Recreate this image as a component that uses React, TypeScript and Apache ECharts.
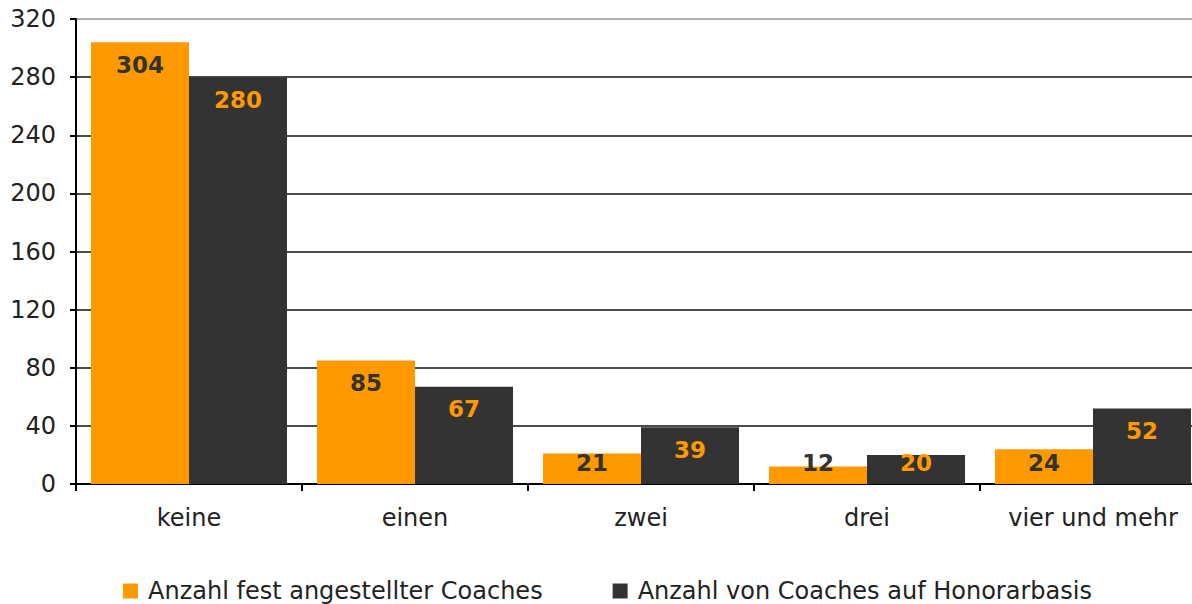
import React, { useEffect, useRef } from "react";
import * as echarts from "echarts";

const categories = ["keine", "einen", "zwei", "drei", "vier und mehr"];
const seriesNames = ["Anzahl fest angestellter Coaches", "Anzahl von Coaches auf Honorarbasis"];
const festValues = [304, 85, 21, 12, 24];
const honorarValues = [280, 67, 39, 20, 52];
const yTicks = [0, 40, 80, 120, 160, 200, 240, 280, 320];

const ORANGE = "#FF9900";
const DARK = "#333333";
const FONT = "DejaVu Sans, Verdana, sans-serif";

export default function App() {
  const ref = useRef<HTMLDivElement>(null);
  useEffect(() => {
    if (!ref.current) return;
    const chart = echarts.init(ref.current, null, { renderer: "svg" });
    const clampLayout = (params: any) => {
      const r = params.rect;
      const l = params.labelRect;
      const limit = r.y + r.height - 10;
      const bottom = l.y + l.height;
      if (bottom > limit) return { dy: limit - bottom };
      return {};
    };
    const label = (color: string) => ({
      show: true,
      position: "insideTop" as const,
      distance: 11,
      color,
      fontFamily: FONT,
      fontWeight: "bold" as const,
      fontSize: 23,
    });
    chart.setOption({
      animation: false,
      backgroundColor: "#ffffff",
      grid: { left: 76, right: 0, top: 19, bottom: 120, containLabel: false },
      legend: {
        top: 573,
        left: 118,
        itemWidth: 15,
        itemHeight: 15,
        itemGap: 70,
        icon: "rect",
        textStyle: { fontFamily: FONT, fontSize: 24, lineHeight: 26, color: "#222", padding: [0, 0, 0, 5] },
        data: seriesNames,
      },
      xAxis: {
        type: "category",
        data: categories,
        axisLine: { lineStyle: { color: "#000", width: 2 } },
        axisTick: { show: true, length: 7, lineStyle: { color: "#000", width: 2 } },
        axisLabel: { fontFamily: FONT, fontSize: 24, color: "#222", margin: 22 },
      },
      yAxis: {
        type: "value",
        min: yTicks[0],
        max: yTicks[yTicks.length - 1],
        interval: 40,
        axisLine: { show: true, lineStyle: { color: "#000", width: 2 } },
        axisTick: { show: true, length: 6, lineStyle: { color: "#000", width: 2 } },
        axisLabel: { fontFamily: FONT, fontSize: 24, color: "#222", margin: 20 },
        splitLine: {
          show: true,
          lineStyle: {
            color: ["#000", "#111", "#111", "#111", "#111", "#111", "#111", "#111", "#999"],
            width: 1.5,
          },
        },
      },
      series: [
        {
          name: seriesNames[0],
          type: "bar",
          data: festValues,
          barWidth: 98,
          barGap: "0%",
          itemStyle: { color: ORANGE },
          label: label(DARK),
          labelLayout: clampLayout,
        },
        {
          name: seriesNames[1],
          type: "bar",
          data: honorarValues,
          barWidth: 98,
          barGap: "0%",
          itemStyle: { color: DARK },
          label: label(ORANGE),
          labelLayout: clampLayout,
        },
      ],
    });
    return () => chart.dispose();
  }, []);
  return (
    <div style={{ position: "absolute", left: 0, top: 0, width: 1192, height: 604, overflow: "hidden", background: "#fff" }}>
      <div ref={ref} style={{ width: 1206, height: 604 }} />
    </div>
  );
}
